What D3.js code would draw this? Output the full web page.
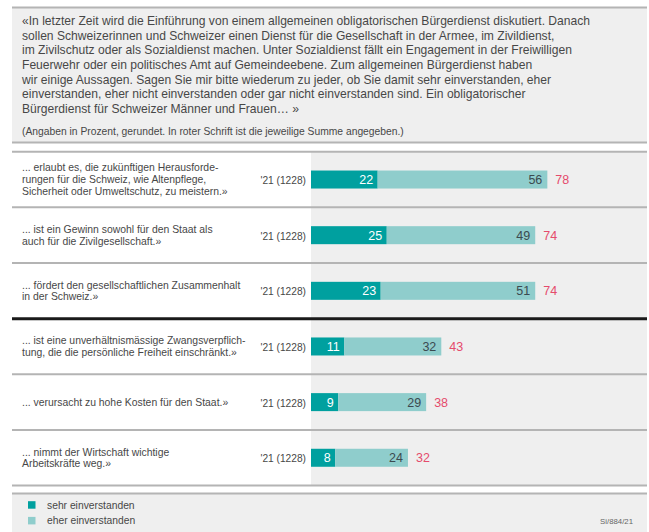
<!DOCTYPE html>
<html><head><meta charset="utf-8">
<script src="https://cdn.jsdelivr.net/npm/d3@7/dist/d3.min.js"></script>
<style>body{margin:0;background:#fff;}svg{display:block;font-family:"Liberation Sans",Arial,Helvetica,sans-serif;}</style>
</head><body><svg id="c" width="649" height="532"></svg>
<script>
const introLines = [
 "«In letzter Zeit wird die Einführung von einem allgemeinen obligatorischen Bürgerdienst diskutiert. Danach",
 "sollen Schweizerinnen und Schweizer einen Dienst für die Gesellschaft in der Armee, im Zivildienst,",
 "im Zivilschutz oder als Sozialdienst machen. Unter Sozialdienst fällt ein Engagement in der Freiwilligen",
 "Feuerwehr oder ein politisches Amt auf Gemeindeebene. Zum allgemeinen Bürgerdienst haben",
 "wir einige Aussagen. Sagen Sie mir bitte wiederum zu jeder, ob Sie damit sehr einverstanden, eher",
 "einverstanden, eher nicht einverstanden oder gar nicht einverstanden sind. Ein obligatorischer",
 "Bürgerdienst für Schweizer Männer und Frauen… »"
];
const noteText = "(Angaben in Prozent, gerundet. In roter Schrift ist die jeweilige Summe angegeben.)";
const categories = [
 ["... erlaubt es, die zukünftigen Herausforde-","rungen für die Schweiz, wie Altenpflege,","Sicherheit oder Umweltschutz, zu meistern.»"],
 ["... ist ein Gewinn sowohl für den Staat als","auch für die Zivilgesellschaft.»"],
 ["... fördert den gesellschaftlichen Zusammenhalt","in der Schweiz.»"],
 ["... ist eine unverhältnismässige Zwangsverpflich-","tung, die die persönliche Freiheit einschränkt.»"],
 ["... verursacht zu hohe Kosten für den Staat.»"],
 ["... nimmt der Wirtschaft wichtige","Arbeitskräfte weg.»"]
];
const sampleLabels = ["'21 (1228)","'21 (1228)","'21 (1228)","'21 (1228)","'21 (1228)","'21 (1228)"];
const sehr = [22, 25, 23, 11, 9, 8];
const eher = [56, 49, 51, 32, 29, 24];
const totals = [78, 74, 74, 43, 38, 32];
const legendLabels = ["sehr einverstanden", "eher einverstanden"];
const sourceLabel = "Si/884/21";

const C = {dark:"#00a09f", light:"#8fcdcc", red:"#e54b6c", text:"#474747", bg:"#efefef", line:"#b4b4b4"};
const svg = d3.select("#c");
const L = 12, R = 647;

// header box
svg.append("rect").attr("x",L).attr("y",8).attr("width",R-L).attr("height",134).attr("fill",C.bg);
svg.append("line").attr("x1",L).attr("x2",R).attr("y1",7.5).attr("y2",7.5).attr("stroke",C.line).attr("stroke-width",2);
svg.append("line").attr("x1",L).attr("x2",R).attr("y1",142.5).attr("y2",142.5).attr("stroke",C.line).attr("stroke-width",2);
svg.append("g").selectAll("text").data(introLines).join("text")
  .attr("x",22).attr("y",(d,i)=>21+i*14.6).attr("dy","0.35em")
  .attr("font-size",12.1).attr("fill",C.text).text(d=>d);
svg.append("text").attr("x",22).attr("y",131).attr("dy","0.35em").attr("font-size",10.3).attr("fill",C.text).text(noteText);

// rows
const rowTop = 151.7, rowH = 55.65;
const y = d3.scaleBand().domain(d3.range(categories.length)).range([rowTop, rowTop+rowH*categories.length]).paddingInner(0).paddingOuter(0);
const x = d3.scaleLinear().domain([0,100]).range([311, 614]);

svg.append("rect").attr("x",311).attr("y",rowTop).attr("width",R-311).attr("height",rowH*categories.length).attr("fill",C.bg);

const barH = 18;
const g = svg.append("g");
const rows = g.selectAll("g.row").data(categories.map((c,i)=>({c,i}))).join("g").attr("class","row");
rows.each(function(d){
  const sel = d3.select(this);
  const cy = y(d.i)+y.bandwidth()/2;
  const n = d.c.length;
  sel.selectAll("text.lab").data(d.c).join("text").attr("class","lab")
    .attr("x",22).attr("y",(t,j)=>cy+(j-(n-1)/2)*11.8).attr("dy","0.35em")
    .attr("font-size",10.4).attr("fill",C.text).text(t=>t);
  sel.append("text").attr("x",306).attr("y",cy+1).attr("dy","0.35em").attr("text-anchor","end")
    .attr("font-size",10.2).attr("fill",C.text).text(sampleLabels[d.i]);
  const s = sehr[d.i], e = eher[d.i], t = totals[d.i];
  sel.append("rect").attr("x",x(0)).attr("y",cy-barH/2).attr("width",x(s)-x(0)).attr("height",barH).attr("fill",C.dark);
  sel.append("rect").attr("x",x(s)).attr("y",cy-barH/2).attr("width",x(s+e)-x(s)).attr("height",barH).attr("fill",C.light);
  sel.append("text").attr("x",x(s)-4.5).attr("y",cy).attr("dy","0.36em").attr("text-anchor","end")
    .attr("font-size",12.5).attr("fill","#fff").text(s);
  sel.append("text").attr("x",x(s+e)-5).attr("y",cy).attr("dy","0.36em").attr("text-anchor","end")
    .attr("font-size",12.5).attr("fill","#3b4a50").text(e);
  sel.append("text").attr("x",x(s+e)+8).attr("y",cy).attr("dy","0.36em")
    .attr("font-size",12.5).attr("fill",C.red).text(t);
});
// separators
const seps = d3.range(categories.length+1);
svg.append("g").selectAll("line").data(seps).join("line")
  .attr("x1",L).attr("x2",R)
  .attr("y1",i=> i===0? rowTop : y(i-1)+y.bandwidth()).attr("y2",i=> i===0? rowTop : y(i-1)+y.bandwidth())
  .attr("stroke",i=> i===3?"#1a1a1a":C.line).attr("stroke-width",i=>i===3?3:2);

// legend box
svg.append("rect").attr("x",L).attr("y",494).attr("width",R-L).attr("height",38).attr("fill",C.bg);
svg.append("line").attr("x1",L).attr("x2",R).attr("y1",493.5).attr("y2",493.5).attr("stroke",C.line).attr("stroke-width",2);
const lg = svg.append("g").selectAll("g").data(legendLabels).join("g").attr("transform",(d,i)=>`translate(28,${505+i*15.7})`);
lg.append("rect").attr("x",0).attr("y",-3.8).attr("width",7.5).attr("height",7.5).attr("fill",(d,i)=>i===0?C.dark:C.light);
lg.append("text").attr("x",19).attr("y",0).attr("dy","0.35em").attr("font-size",10.3).attr("fill",C.text).text(d=>d);
svg.append("text").attr("x",633).attr("y",521.7).attr("dy","0.35em").attr("text-anchor","end").attr("font-size",7.8).attr("fill","#666").text(sourceLabel);
</script></body></html>
